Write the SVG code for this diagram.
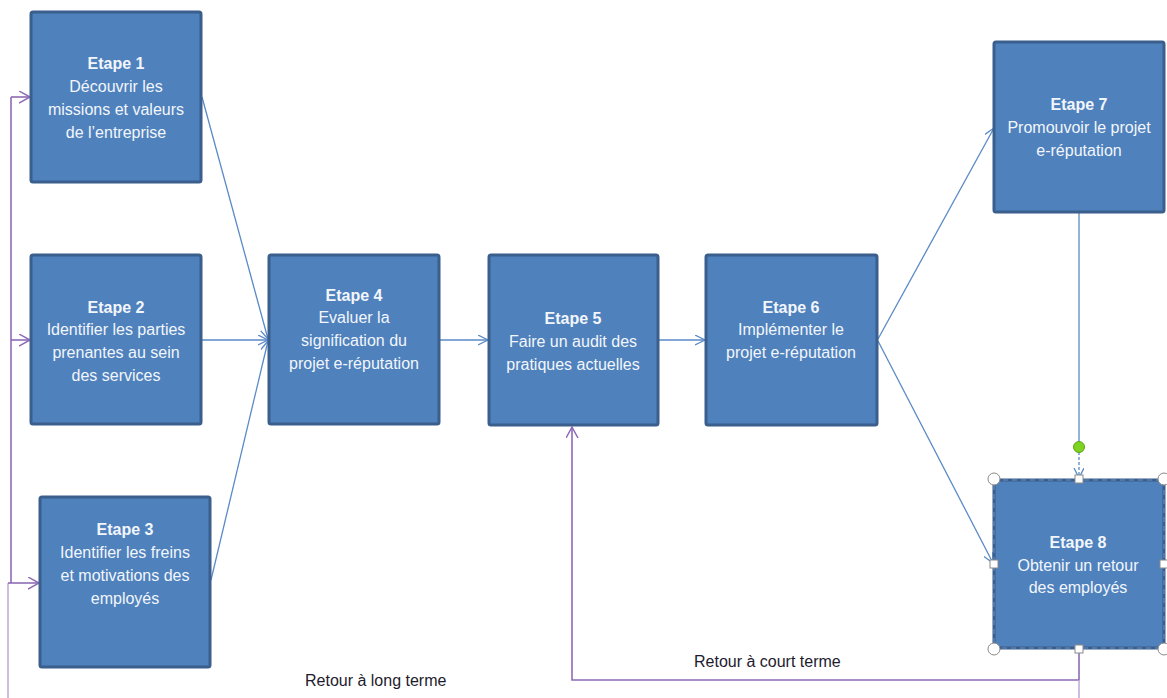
<svg xmlns="http://www.w3.org/2000/svg" width="1167" height="698" viewBox="0 0 1167 698">
  <defs>
    <style>
      .box { fill: #4F81BD; stroke: #3A5F8C; stroke-width: 3; }
      .t { font-family: "Liberation Sans", Arial, sans-serif; font-size: 16px; fill: #F2F6FB; text-anchor: middle; }
      .h { font-weight: bold; }
      .flow { fill: none; stroke: #5A8AC6; stroke-width: 1.3; }
      .loop { fill: none; stroke: #8D6BB6; stroke-width: 1.6; }
      .loopfade { fill: none; stroke: #BFAED6; stroke-width: 1.6; }
      .lbl { font-family: "Liberation Sans", Arial, sans-serif; font-size: 16px; fill: #1E1B2E; }
      .handle { fill: #FFFFFF; stroke: #8A8A8A; stroke-width: 1; }
    </style>
    <marker id="arrBlue" markerWidth="12" markerHeight="12" refX="10" refY="5" orient="auto" markerUnits="userSpaceOnUse" viewBox="0 0 12 12">
      <path d="M0,0 L10,5 L0,10" fill="none" stroke="#5A8AC6" stroke-width="1.3"/>
    </marker>
    <marker id="arrPurple" markerWidth="14" markerHeight="14" refX="11" refY="6" orient="auto" markerUnits="userSpaceOnUse" viewBox="0 0 14 14">
      <path d="M0,0 L11,6 L0,12" fill="none" stroke="#8D6BB6" stroke-width="1.5"/>
    </marker>
  </defs>

  <rect width="1167" height="698" fill="#FFFFFF"/>

  <!-- connectors -->
  <g id="connectors">
    <!-- forward flow -->
    <line class="flow" x1="202" y1="97" x2="268" y2="339" marker-end="url(#arrBlue)"/>
    <line class="flow" x1="202" y1="340" x2="268" y2="340" marker-end="url(#arrBlue)"/>
    <line class="flow" x1="211" y1="580" x2="268" y2="341" marker-end="url(#arrBlue)"/>
    <line class="flow" x1="440" y1="340" x2="488" y2="340" marker-end="url(#arrBlue)"/>
    <line class="flow" x1="659" y1="340" x2="705" y2="340" marker-end="url(#arrBlue)"/>
    <line class="flow" x1="878" y1="339" x2="994" y2="128" marker-end="url(#arrBlue)"/>
    <line class="flow" x1="878" y1="341" x2="993" y2="563" marker-end="url(#arrBlue)"/>
    <line class="flow" x1="1079" y1="213" x2="1079" y2="442"/>
    <line class="flow" x1="1079" y1="452" x2="1079" y2="478" stroke-dasharray="3,2" marker-end="url(#arrBlue)"/>

    <!-- short-term feedback: Etape 8 back to Etape 5 -->
    <path class="loop" d="M1079,650 L1079,680 L572,680 L572,427" marker-end="url(#arrPurple)"/>
    <!-- long-term feedback: Etape 8 back to Etapes 1-3 -->
    <line class="loopfade" x1="1079" y1="680" x2="1079" y2="698"/>
    <line class="loopfade" x1="8" y1="698" x2="8" y2="583"/>
    <line class="loop" x1="8" y1="583" x2="39" y2="583" marker-end="url(#arrPurple)"/>
    <line class="loop" x1="11" y1="583" x2="11" y2="97"/>
    <line class="loop" x1="11" y1="97" x2="30" y2="97" marker-end="url(#arrPurple)"/>
    <line class="loop" x1="11" y1="340" x2="30" y2="340" marker-end="url(#arrPurple)"/>

    <text class="lbl" x="305" y="686">Retour à long terme</text>
    <text class="lbl" x="694" y="667">Retour à court terme</text>
  </g>

  <g id="etape1">
    <rect class="box" x="31" y="12" width="170" height="170" rx="2"/>
    <text class="t h" x="116" y="69">Etape 1</text>
    <text class="t" x="116" y="92">Découvrir les</text>
    <text class="t" x="116" y="115">missions et valeurs</text>
    <text class="t" x="116" y="138">de l’entreprise</text>
  </g>

  <g id="etape2">
    <rect class="box" x="31" y="255" width="170" height="169" rx="2"/>
    <text class="t h" x="116" y="313">Etape 2</text>
    <text class="t" x="116" y="335">Identifier les parties</text>
    <text class="t" x="116" y="358">prenantes au sein</text>
    <text class="t" x="116" y="381">des services</text>
  </g>

  <g id="etape3">
    <rect class="box" x="40" y="497" width="170" height="170" rx="2"/>
    <text class="t h" x="125" y="535">Etape 3</text>
    <text class="t" x="125" y="558">Identifier les freins</text>
    <text class="t" x="125" y="581">et motivations des</text>
    <text class="t" x="125" y="604">employés</text>
  </g>

  <g id="etape4">
    <rect class="box" x="269" y="255" width="170" height="169" rx="2"/>
    <text class="t h" x="354" y="301">Etape 4</text>
    <text class="t" x="354" y="323">Evaluer la</text>
    <text class="t" x="354" y="346">signification du</text>
    <text class="t" x="354" y="369">projet e-réputation</text>
  </g>

  <g id="etape5">
    <rect class="box" x="489" y="255" width="169" height="170" rx="2"/>
    <text class="t h" x="573" y="324">Etape 5</text>
    <text class="t" x="573" y="347">Faire un audit des</text>
    <text class="t" x="573" y="370">pratiques actuelles</text>
  </g>

  <g id="etape6">
    <rect class="box" x="706" y="255" width="171" height="170" rx="2"/>
    <text class="t h" x="791" y="313">Etape 6</text>
    <text class="t" x="791" y="335">Implémenter le</text>
    <text class="t" x="791" y="358">projet e-réputation</text>
  </g>

  <g id="etape7">
    <rect class="box" x="994" y="42" width="170" height="170" rx="2"/>
    <text class="t h" x="1079" y="110">Etape 7</text>
    <text class="t" x="1079" y="133">Promouvoir le projet</text>
    <text class="t" x="1079" y="156">e-réputation</text>
  </g>

  <g id="etape8">
    <rect class="box" x="994" y="480" width="170" height="168" rx="1"/>
    <rect x="994" y="480" width="170" height="168" fill="none" stroke="#6C8FBF" stroke-width="1" stroke-dasharray="5,4"/>
    <text class="t h" x="1078" y="548">Etape 8</text>
    <text class="t" x="1078" y="571">Obtenir un retour</text>
    <text class="t" x="1078" y="593">des employés</text>
    <!-- selection handles -->
    <circle class="handle" cx="994" cy="479" r="6"/>
    <circle class="handle" cx="1164" cy="479" r="6"/>
    <circle class="handle" cx="994" cy="649" r="6"/>
    <circle class="handle" cx="1164" cy="649" r="6"/>
    <rect class="handle" x="1075" y="475" width="8" height="8"/>
    <rect class="handle" x="1075" y="645" width="8" height="8"/>
    <rect class="handle" x="990" y="560" width="8" height="8"/>
    <rect class="handle" x="1160" y="560" width="8" height="8"/>
    <!-- connector end handle -->
    <circle cx="1079" cy="447" r="5.5" fill="#7ED321" stroke="#5FA418" stroke-width="1"/>
  </g>
</svg>
